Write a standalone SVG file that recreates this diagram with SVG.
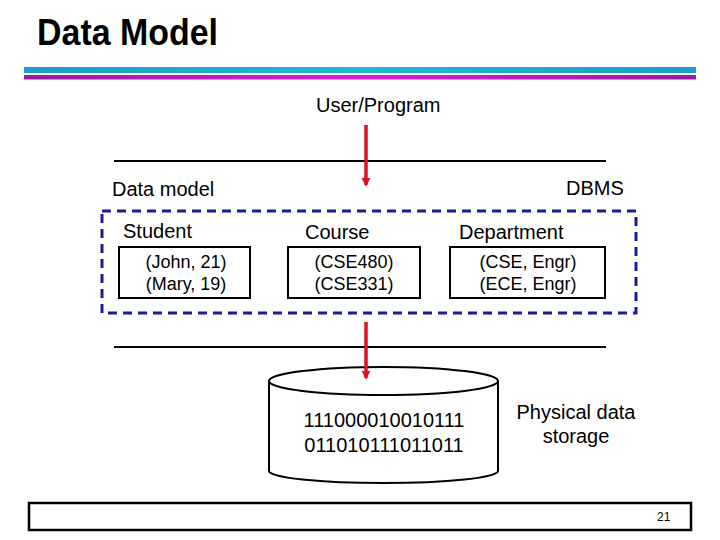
<svg xmlns="http://www.w3.org/2000/svg" width="720" height="540" viewBox="0 0 720 540">
<style>
text{font-family:"Liberation Sans",Arial,sans-serif;fill:#000}
.lbl{font-size:20px}
.cell{font-size:18px;text-anchor:middle}
.box{fill:#fff;stroke:#000;stroke-width:2}
.rule{stroke:#000;stroke-width:2}
.arr{stroke:#e01020;stroke-width:3.5;fill:none}
</style>
<defs>
<marker id="ah" viewBox="0 0 10 10" refX="8" refY="5" markerWidth="2.6" markerHeight="2.6" orient="auto" markerUnits="strokeWidth">
<path d="M0,0 L10,5 L0,10 z" fill="#e01020"/>
</marker>
<linearGradient id="cy" x1="0" x2="1"><stop offset="0" stop-color="#1c9fc4"/><stop offset="0.5" stop-color="#22b6d8"/><stop offset="1" stop-color="#1c9fc4"/></linearGradient>
<linearGradient id="mg" x1="0" x2="1"><stop offset="0" stop-color="#9a1a9c"/><stop offset="0.5" stop-color="#d81ed6"/><stop offset="1" stop-color="#9a1a9c"/></linearGradient>
</defs>
<text x="37" y="45" font-size="36" font-weight="bold" textLength="181" lengthAdjust="spacingAndGlyphs">Data Model</text>
<rect x="24" y="67" width="672" height="6" fill="url(#cy)"/>
<rect x="24" y="75" width="672" height="4.5" fill="url(#mg)"/>

<g id="user-program"><text class="lbl" x="316" y="112">User/Program</text></g>
<g id="dbms-labels">
<text class="lbl" x="112" y="196">Data model</text>
<text class="lbl" x="566" y="195">DBMS</text>
</g>
<g id="data-model">
<rect x="102" y="211" width="534" height="102" fill="none" stroke="#1a1a9e" stroke-width="3" stroke-dasharray="9,6"/>
</g>
<g id="student">
<text class="lbl" x="123" y="238">Student</text>
<rect class="box" x="119" y="247" width="131" height="51"/>
<text class="cell" x="186" y="268">(John, 21)</text>
<text class="cell" x="186" y="290">(Mary, 19)</text>
</g>
<g id="course">
<text class="lbl" x="305" y="239">Course</text>
<rect class="box" x="288" y="247" width="132" height="51"/>
<text class="cell" x="354" y="268">(CSE480)</text>
<text class="cell" x="354" y="290">(CSE331)</text>
</g>
<g id="department">
<text class="lbl" x="459" y="239">Department</text>
<rect class="box" x="450" y="247" width="155" height="51"/>
<text class="cell" x="528" y="268">(CSE, Engr)</text>
<text class="cell" x="528" y="290">(ECE, Engr)</text>
</g>
<g id="storage">
<path d="M269,381 L269,471 A114.5,12 0 0 0 498,471 L498,381" fill="#fff" stroke="#000" stroke-width="2"/>
<ellipse cx="383.5" cy="381" rx="114.5" ry="14" fill="#fff" stroke="#000" stroke-width="2"/>
<text x="384" y="427" font-size="20" text-anchor="middle">111000010010111</text>
<text x="384" y="452" font-size="20" text-anchor="middle">011010111011011</text>
</g>
<g id="physical">
<text class="lbl" x="576" y="419" text-anchor="middle">Physical data</text>
<text class="lbl" x="576" y="443" text-anchor="middle">storage</text>
</g>
<g id="connectors">
<line class="rule" x1="114" y1="161" x2="606" y2="161"/>
<line class="rule" x1="114" y1="347" x2="606" y2="347"/>
<line class="arr" x1="366" y1="125" x2="366" y2="185" marker-end="url(#ah)"/>
<line class="arr" x1="366" y1="322" x2="366" y2="378" marker-end="url(#ah)"/>
</g>
<g id="footer">
<rect x="29" y="503" width="662" height="27" fill="none" stroke="#000" stroke-width="2.5"/>
<text x="657" y="521" font-size="12" font-family="'Liberation Sans Narrow','Liberation Sans',sans-serif">21</text>
</g>
</svg>
